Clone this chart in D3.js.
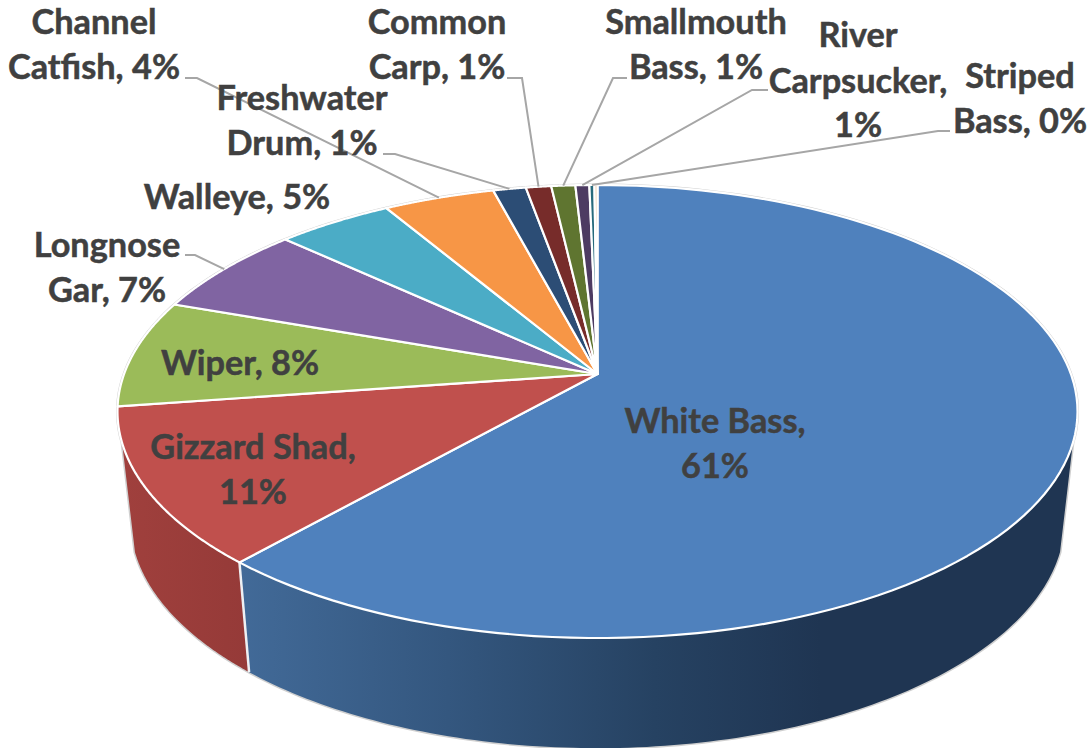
<!DOCTYPE html>
<html><head><meta charset="utf-8">
<script src="https://cdn.jsdelivr.net/npm/d3@7"></script>
<style>html,body{margin:0;padding:0;background:#fff}svg{display:block}
text{font-family:Lato,"Open Sans",sans-serif;font-weight:700;fill:#404040;stroke:#404040;stroke-width:0.5px;font-size:34.3px;text-anchor:middle}</style>
</head><body><div id="chart"></div>
<script>
const categories=["White Bass","Gizzard Shad","Wiper","Longnose Gar","Walleye","Channel Catfish","Freshwater Drum","Common Carp","Smallmouth Bass","River Carpsucker","Striped Bass",""];
const values=[61.6,11.2,7.7,6.5,4.6,4.4,1.3,1.0,0.95,0.55,0.2,0.12];
const colors=["#4f81bd","#c0504d","#9bbb59","#8064a2","#4bacc6","#f79646","#2c4d75","#772c2a","#5f7530","#4d3b62","#276a7c","#e8c9a8"];
// label layout: text lines [text, centre x, baseline y], leader elbow points
const labelLines=[
 [["White Bass,",715,433],["61%",715,478]],
 [["Gizzard Shad,",253,459],["11%",253,504]],
 [["Wiper, 8%",240,375]],
 [["Longnose",107,257],["Gar, 7%",107,302]],
 [["Walleye, 5%",237,209]],
 [["Channel",94,34],["Catfish, 4%",94,79]],
 [["Freshwater",302,110],["Drum, 1%",302,155]],
 [["Common",437,34],["Carp, 1%",437,79]],
 [["Smallmouth",696,34],["Bass, 1%",696,79]],
 [["River",858,47],["Carpsucker,",858,93],["1%",858,137]],
 [["Striped",1020,88],["Bass, 0%",1020,133]],
 []];
const leaders=[null,null,null,[[185,255],[195,255]],null,[[185,78],[197,78]],[[383,154],[395,154]],[[507,78],[522,78]],[[627,78],[613,78]],[[768,90],[752,90]],[[950,131],[938,131]],null];

const W=1091,H=748;
const svg=d3.select("#chart").append("svg").attr("width",W).attr("height",H);
const defs=svg.append("defs");
const apexX=597.5,apexY=374,A=473.4,B=220.3,m=0.1656;
// perspective projection of the disc, angle clockwise from the top
function topPt(a){const X=Math.sin(a),Y=-Math.cos(a),w=1-m*Y;return [apexX+A*X/w,apexY+B*Y/w];}
const ellCY=411,botCY=520,sx=0.973,sy=1.005;
function botPt(a){const p=topPt(a);return [apexX+(p[0]-apexX)*sx,botCY+(p[1]-ellCY)*sy];}
const line=d3.line();
const arcPts=(f,a0,a1)=>d3.range(0,121).map(i=>f(a0+(a1-a0)*i/120));

const arcs=d3.pie().sort(null).value(d=>d)(values);
const wallA=107.3*Math.PI/180,wallB=252.7*Math.PI/180;

function grad(id,stops){const g=defs.append("linearGradient").attr("id",id).attr("gradientUnits","userSpaceOnUse")
 .attr("x1",240).attr("x2",1070).attr("y1",0).attr("y2",0);
 stops.forEach(s=>g.append("stop").attr("offset",s[0]).attr("stop-color",s[1]));}
grad("gBlue",[[0,"#426a98"],[0.25,"#34577f"],[0.5,"#264262"],[0.7,"#1f3552"],[1,"#1f3552"]]);
const gr=defs.append("linearGradient").attr("id","gRed").attr("gradientUnits","userSpaceOnUse").attr("x1",120).attr("x2",250).attr("y1",0).attr("y2",0);
gr.append("stop").attr("offset",0).attr("stop-color","#a0403d");gr.append("stop").attr("offset",1).attr("stop-color","#953a38");

// silhouette outline
const sil=[...arcPts(topPt,wallA,wallB-2*Math.PI),...arcPts(botPt,wallB,wallA)];
svg.append("path").attr("d",line(sil)+"Z").attr("fill","#fff").attr("stroke","#cfcfcf").attr("stroke-width",3);

// side walls
const walls=[[wallA,arcs[0].endAngle,"url(#gBlue)"],[arcs[0].endAngle,wallB,"url(#gRed)"]];
svg.selectAll("path.wall").data(walls).join("path").attr("class","wall")
 .attr("d",d=>line([...arcPts(topPt,d[0],d[1]),...arcPts(botPt,d[1],d[0])])+"Z")
 .attr("fill",d=>d[2]).attr("stroke","none");
// white edge between wall segments
svg.append("path").attr("d",line([topPt(arcs[0].endAngle),botPt(arcs[0].endAngle)])).attr("stroke","#eef0f3").attr("stroke-width",2.5).attr("fill","none");

// top face
svg.selectAll("path.slice").data(arcs).join("path").attr("class","slice")
 .attr("d",d=>line([[apexX,apexY],...arcPts(topPt,d.startAngle,d.endAngle)])+"Z")
 .attr("fill",(d,i)=>colors[i]).attr("stroke","#fff").attr("stroke-width",2.2).attr("stroke-linejoin","round");

// leaders
leaders.forEach((l,i)=>{ if(!l) return;
 const a=(arcs[i].startAngle+arcs[i].endAngle)/2;
 svg.append("path").attr("d",line([...l,topPt(a)])).attr("fill","none").attr("stroke","#a6a6a6").attr("stroke-width",2);
});

// labels
labelLines.forEach(ls=>ls.forEach(l=>{
 svg.append("text").attr("x",l[1]).attr("y",l[2]).text(l[0]);
}));
</script></body></html>
